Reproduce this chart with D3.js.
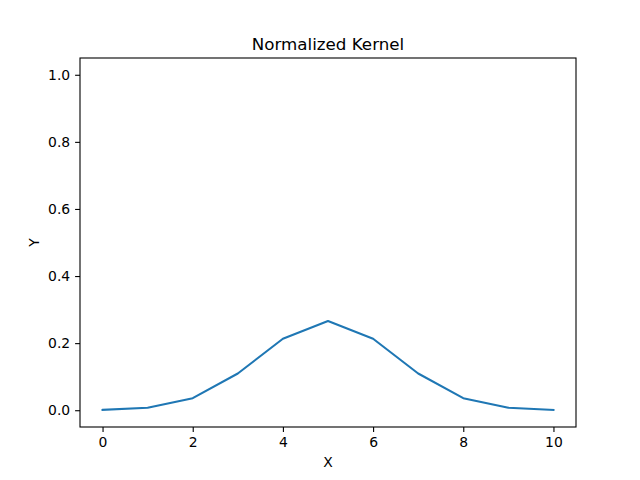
<!DOCTYPE html>
<html><head><meta charset="utf-8">
<script src="https://cdn.jsdelivr.net/npm/d3@7"></script>
<style>body{margin:0;background:#fff}svg{display:block}text{font-family:"DejaVu Sans",sans-serif}</style>
</head><body><svg id="c" width="640" height="480"></svg>
<script>
const xValues = [0,1,2,3,4,5,6,7,8,9,10];
const yValues = [0.0010,0.0076,0.0360,0.1094,0.2130,0.2660,0.2130,0.1094,0.0360,0.0076,0.0010];
const xTicks = [0,2,4,6,8,10];
const yTicks = [0.0,0.2,0.4,0.6,0.8,1.0];
const title = "Normalized Kernel", xLabel = "X", yLabel = "Y";

const svg = d3.select("#c");
const L=80, R=576, T=58, B=427;
const x = d3.scaleLinear().domain([-0.5,10.5]).range([L,R]);
const y = d3.scaleLinear().domain([-0.05,1.05]).range([B,T]);

const xa = svg.append("g").attr("transform",`translate(0,${B})`)
  .call(d3.axisBottom(x).tickValues(xTicks).tickFormat(d3.format("d")).tickSize(4.9).tickPadding(4.9));
const ya = svg.append("g").attr("transform",`translate(${L},0)`)
  .call(d3.axisLeft(y).tickValues(yTicks).tickFormat(d3.format(".1f")).tickSize(4.9).tickPadding(4.9));
[xa,ya].forEach(g=>{
  g.select(".domain").remove();
  g.selectAll("line").attr("stroke","#000").attr("stroke-width",1.1);
  g.selectAll("text").attr("font-size",13.9).attr("fill","#000").attr("font-family","DejaVu Sans, sans-serif");
});

svg.append("path").datum(xValues.map((d,i)=>[d,yValues[i]]))
  .attr("fill","none").attr("stroke","#1f77b4").attr("stroke-width",2.08)
  .attr("stroke-linejoin","round").attr("stroke-linecap","square")
  .attr("d", d3.line().x(d=>x(d[0])).y(d=>y(d[1])));

svg.append("rect").attr("x",L).attr("y",T).attr("width",R-L).attr("height",B-T)
  .attr("fill","none").attr("stroke","#000").attr("stroke-width",1.1);

svg.append("text").attr("x",(L+R)/2).attr("y",T-8).attr("text-anchor","middle")
  .attr("font-size",16.7).text(title);
svg.append("text").attr("x",(L+R)/2).attr("y",467).attr("text-anchor","middle")
  .attr("font-size",13.9).text(xLabel);
svg.append("text").attr("transform",`translate(39,${(T+B)/2}) rotate(-90)`).attr("text-anchor","middle")
  .attr("font-size",13.9).text(yLabel);
</script></body></html>
